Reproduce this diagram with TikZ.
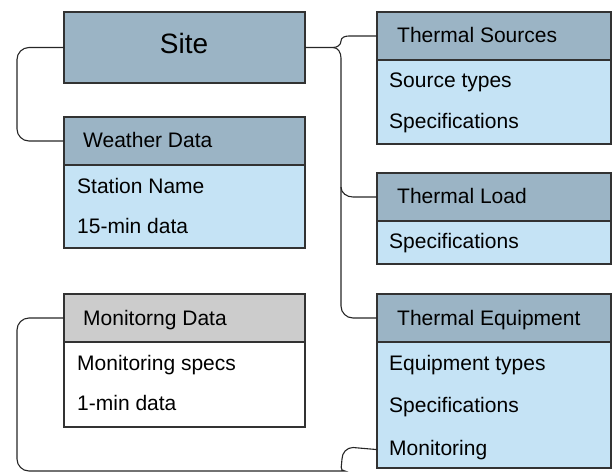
\documentclass[tikz,border=0pt]{standalone}
\usepackage{fontspec}
\setmainfont{Liberation Sans}
\definecolor{headfill}{RGB}{155,180,197}
\definecolor{bodyfill}{RGB}{197,227,245}
\definecolor{greyfill}{RGB}{204,204,204}
\definecolor{edge}{RGB}{50,50,50}
\begin{document}
\begin{tikzpicture}[x=1pt,y=-1pt,
  panel/.style={draw=edge, line width=1.2pt, anchor=north west, inner sep=0pt, outer sep=0pt},
  headbox/.style={panel, fill=headfill, minimum height=48pt},
  bodybox/.style={panel, fill=bodyfill},
  leftw/.style={minimum width=241pt},
  rightw/.style={minimum width=234pt},
  lbl/.style={anchor=base west, inner sep=0pt, text=black, font=\fontsize{21}{24}\selectfont},
  link/.style={draw=black!85, line width=1.1pt}]
\path[use as bounding box, clip] (0,0) rectangle (613,472);

% left column
\node[headbox, leftw, minimum height=71pt] (site) at (64,12) {};
\node[anchor=base, inner sep=0pt, text=black, font=\fontsize{28}{32}\selectfont] (sitetxt) at (184,53) {Site};

\node[bodybox, leftw, minimum height=83pt] (wb) at (64,165) {};
\node[headbox, leftw] (wh) at (64,117) {};
\node[lbl] (whtxt) at (83,147) {Weather Data};
\node[lbl] (wb1) at (77,193) {Station Name};
\node[lbl] (wb2) at (77,233) {15-min data};

\node[panel, fill=white, leftw, minimum height=85pt] (mb) at (64,342) {};
\node[panel, fill=greyfill, leftw, minimum height=48pt] (mh) at (64,294) {};
\node[lbl] (mhtxt) at (83,325) {Monitorng Data};
\node[lbl] (mb1) at (77,370) {Monitoring specs};
\node[lbl] (mb2) at (77,410) {1-min data};

% right column
\node[bodybox, rightw, minimum height=84pt] (tsb) at (377,60) {};
\node[headbox, rightw] (tsh) at (377,12) {};
\node[lbl] (tshtxt) at (397,42) {Thermal Sources};
\node[lbl] (tsb1) at (389,87) {Source types};
\node[lbl] (tsb2) at (389,128) {Specifications};

\node[bodybox, rightw, minimum height=43pt] (tlb) at (377,221) {};
\node[headbox, rightw] (tlh) at (377,173) {};
\node[lbl] (tlhtxt) at (397,203) {Thermal Load};
\node[lbl] (tlb1) at (389,248) {Specifications};

\node[bodybox, rightw, minimum height=126pt] (teb) at (377,342) {};
\node[headbox, rightw] (teh) at (377,294) {};
\node[lbl] (tehtxt) at (397,325) {Thermal Equipment};
\node[lbl] (teb1) at (389,370) {Equipment types};
\node[lbl] (teb2) at (389,412) {Specifications};
\node[lbl] (temon) at (389,455) {Monitoring};

% connectors
\coordinate (fork) at ([xshift=28pt]site.east);
\coordinate (trunk) at (341,187);
\coordinate (foot) at (333,471);

\draw[link, rounded corners=12pt] (site.west) -| (17,100) |- (wh.west);

\draw[link] (site.east) -- (fork) to[out=0,in=-90] (341,41) to[out=90,in=180] (349,36) -- (tsh.west);
\draw[link] (fork) to[out=0,in=90] (341,58) -- (trunk) to[out=-90,in=180] (353,197) -- (tlh.west);
\draw[link] (trunk) -- (341,306) to[out=-90,in=180] (353,318) -- (teh.west);

\draw[link] (mh.west) [rounded corners=12pt] -| (17,471) -- (foot) [sharp corners]
  to[out=0,in=-90] (342,459) to[out=90,in=180] (353,447.5) -- (teb.west |- temon.center);
\end{tikzpicture}
\end{document}
